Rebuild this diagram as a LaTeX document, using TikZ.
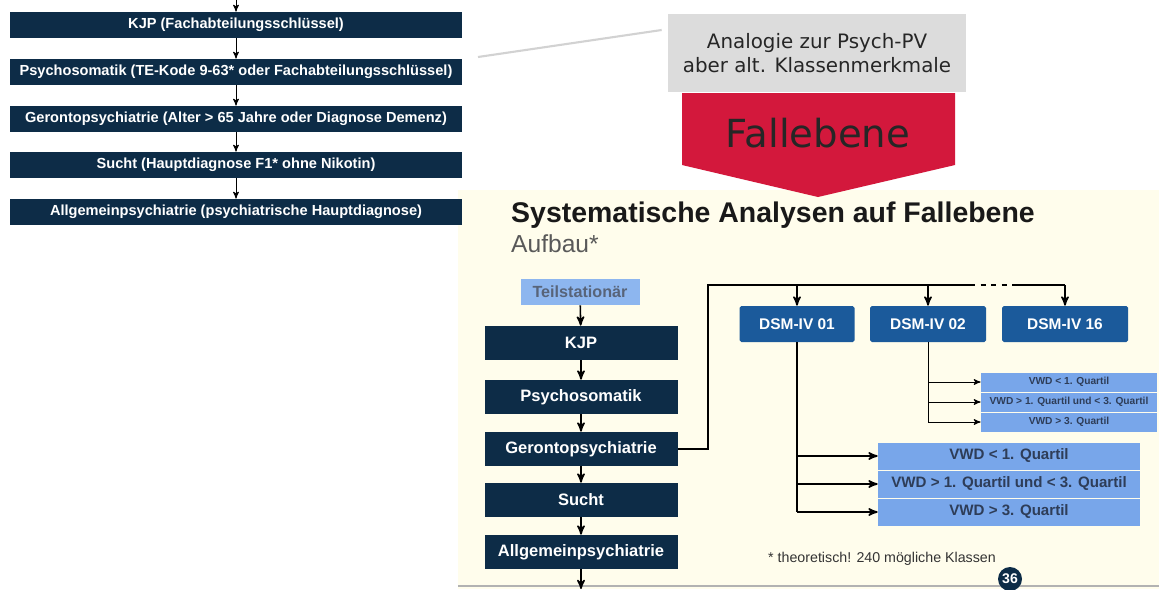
\documentclass[tikz,border=0pt]{standalone}
\usepackage{fontspec}
\setmainfont{Liberation Sans}
\newfontfamily\dejavu{DejaVu Sans}
\usetikzlibrary{arrows,calc}
\definecolor{navy}{HTML}{0D2C47}
\definecolor{dsmblue}{HTML}{1B5A9B}
\definecolor{lightblue}{HTML}{78A6EA}
\definecolor{tsblue}{HTML}{8DB6EF}
\definecolor{slate}{HTML}{2E3D58}
\definecolor{cream}{HTML}{FFFDEC}
\definecolor{fallred}{HTML}{D3183C}
\definecolor{boxgray}{HTML}{DCDCDC}
\newcommand\pxu{0.02cm}

\begin{document}
\begin{tikzpicture}[x=0.02cm, y=-0.02cm,
  leftbox/.style={fill=navy, text=white, font=\bfseries\fontsize{8.3}{9.5}\selectfont,
    minimum width=452*\pxu, minimum height=26*\pxu, inner sep=0pt},
  stepbox/.style={fill=navy, text=white, font=\bfseries\fontsize{9.4}{11}\selectfont,
    minimum width=193*\pxu, minimum height=34*\pxu, inner sep=0pt},
  dsmbox/.style={fill=dsmblue, text=white, rounded corners=1pt, font=\bfseries\fontsize{8.8}{10}\selectfont,
    minimum height=36*\pxu, inner sep=0pt},
  vwdbig/.style={fill=lightblue, text=slate, font=\bfseries\fontsize{8.6}{10}\selectfont,
    minimum width=262*\pxu, minimum height=27*\pxu, inner sep=0pt},
  vwdsmall/.style={fill=lightblue, text=slate, font=\bfseries\fontsize{5.8}{7}\selectfont,
    minimum width=176*\pxu, minimum height=19*\pxu, inner sep=0pt},
  arr/.style={->, >=stealth', line width=0.9pt},
  thinarr/.style={->, >=stealth', line width=0.5pt}]
\useasboundingbox (0,0) rectangle (1159,589);

% slide background
\fill[cream] (458,190) rectangle (1159,589);
\draw[gray!60, line width=1.4pt] (458,586) -- (1159,586);
\fill[navy] (1010,579) circle[radius=12];
\node[text=white, font=\bfseries\fontsize{8}{9}\selectfont] (page) at (1010,579) {36};

% left panel
\coordinate (ltop) at (236,0);
\foreach \name/\y/\txt in {lkjp/25/KJP (Fachabteilungsschlüssel),
  lpsy/72/Psychosomatik (TE-Kode 9-63* oder Fachabteilungsschlüssel),
  lger/119/Gerontopsychiatrie (Alter > 65 Jahre oder Diagnose Demenz),
  lsucht/165/Sucht (Hauptdiagnose F1* ohne Nikotin),
  lallg/212/Allgemeinpsychiatrie (psychiatrische Hauptdiagnose)}
  \node[leftbox] (\name) at (236,\y) {\txt};
\draw[thinarr] (ltop) -- (lkjp.north);
\draw[thinarr] (lkjp) -- (lpsy);
\draw[thinarr] (lpsy) -- (lger);
\draw[thinarr] (lger) -- (lsucht);
\draw[thinarr] (lsucht) -- (lallg);

% gray note and red arrow
\node[fill=boxgray, minimum width=298*\pxu, minimum height=78*\pxu, inner sep=0pt,
  align=center, font=\dejavu\fontsize{11.3}{14}\selectfont, text=black!85] (note) at (817,53)
  {Analogie zur Psych-PV\\aber alt. Klassenmerkmale};
\coordinate (notelink) at (478,57);
\draw[gray!35, line width=1.2pt] (notelink) -- ($(note.west)+(-6,-23)$);
\fill[fallred] (682,93) -- (955,93) -- (955,165) -- (818,197) -- (682,165) -- cycle;
\node[font=\dejavu\fontsize{22}{26}\selectfont, text=black!85] (fall) at (818,133) {Fallebene};

% slide title
\node[anchor=west, font=\bfseries\fontsize{16.2}{19}\selectfont, text=black!90] (title) at (505,215)
  {Systematische Analysen auf Fallebene};
\node[anchor=west, font=\fontsize{14}{16}\selectfont, text=black!65] (aufbau) at (505,244) {Aufbau*};

% step column
\node[fill=tsblue, text=slate!80, font=\bfseries\fontsize{9.2}{10.5}\selectfont,
  minimum width=119*\pxu, minimum height=26*\pxu, inner sep=0pt] (teil) at (580,292) {Teilstationär};
\foreach \name/\y/\txt in {kjp/343/KJP, psy/397/Psychosomatik, ger/449/Gerontopsychiatrie,
  sucht/500/Sucht, allg/552/Allgemeinpsychiatrie}
  \node[stepbox] (\name) at (581,\y) {\txt};
\coordinate (cend) at (581,589);
\draw[arr] (teil) -- (kjp);
\draw[arr] (kjp) -- (psy);
\draw[arr] (psy) -- (ger);
\draw[arr] (ger) -- (sucht);
\draw[arr] (sucht) -- (allg);
\draw[arr] (allg) -- (cend);

% DSM classes
\node[dsmbox, minimum width=115*\pxu] (dsm01) at (797,324) {DSM-IV 01};
\node[dsmbox, minimum width=116*\pxu] (dsm02) at (928,324) {DSM-IV 02};
\node[dsmbox, minimum width=126*\pxu] (dsm16) at (1065,324) {DSM-IV 16};
\coordinate (bus) at (708,285);
\coordinate (gap1) at (970,285);
\coordinate (gap2) at (1012,285);
\draw[line width=1.3pt] (ger.east) -| (bus) -- (gap1);
\draw[line width=1.3pt, dashed] (gap1) -- (gap2);
\draw[line width=1.3pt] (gap2) -- (dsm16.north |- bus);
\foreach \d in {dsm01, dsm02, dsm16}
  \draw[arr] (\d.north |- bus) -- (\d.north);

% VWD classes for DSM-IV 02
\foreach \name/\y/\txt in {s1/382/VWD < 1. Quartil, s2/402/VWD > 1. Quartil und < 3. Quartil,
  s3/422/VWD > 3. Quartil}
  \node[vwdsmall] (\name) at (1069,\y) {\txt};
\draw[line width=0.5pt] (dsm02.south) -- (dsm02.south |- s3.west);
\foreach \s in {s1, s2, s3}
  \draw[thinarr] (dsm02.south |- \s.west) -- (\s.west);

% VWD classes for DSM-IV 01
\foreach \name/\y/\txt in {b1/456/VWD < 1. Quartil, b2/484/VWD > 1. Quartil und < 3. Quartil,
  b3/512/VWD > 3. Quartil}
  \node[vwdbig] (\name) at (1009,\y) {\txt};
\draw[line width=1.3pt] (dsm01.south) -- (dsm01.south |- b3.west);
\foreach \b in {b1, b2, b3}
  \draw[arr] (dsm01.south |- \b.west) -- (\b.west);

\node[anchor=west, font=\fontsize{8.1}{9.5}\selectfont, text=black!80] (foot) at (762,559)
  {* theoretisch! 240 mögliche Klassen};
\end{tikzpicture}
\end{document}
